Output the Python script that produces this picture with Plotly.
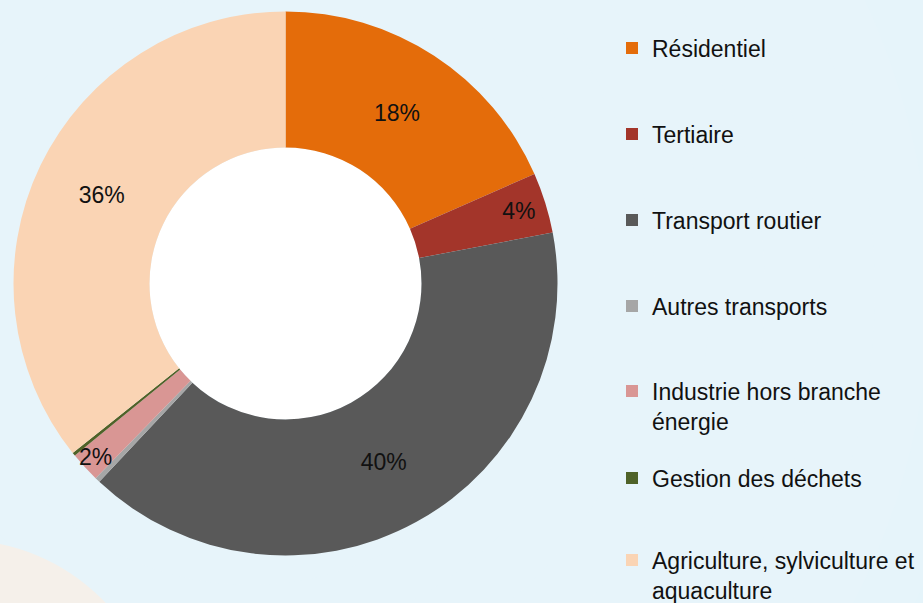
import plotly.graph_objects as go

# ---- data ----
categories = ["Résidentiel", "Tertiaire", "Transport routier", "Autres transports",
              "Industrie hors branche énergie", "Gestion des déchets",
              "Agriculture, sylviculture et aquaculture"]
legend_labels = ["Résidentiel", "Tertiaire", "Transport routier", "Autres transports",
                 "Industrie hors branche<br>énergie", "Gestion des déchets",
                 "Agriculture, sylviculture et<br>aquaculture"]
shares = [18.4, 3.6, 40.0, 0.3, 1.8, 0.2, 35.7]
show_label = [True, True, True, False, True, False, True]
colors = ["#E46C0A", "#A3352A", "#595959", "#A6A6A6", "#D99694", "#4F6228", "#FAD4B4"]

W, H = 923, 603
FONT = "Liberation Sans, Arial, sans-serif"
FS = 23

fig = go.Figure()

fig.add_trace(go.Pie(
    labels=categories,
    values=shares,
    sort=False,
    direction="clockwise",
    rotation=0,
    hole=0.5,
    marker=dict(colors=colors, line=dict(width=0)),
    texttemplate=["%{percent:.0%}" if s else "" for s in show_label],
    textposition="inside",
    insidetextorientation="horizontal",
    textfont=dict(family=FONT, size=FS, color="#111111"),
    domain=dict(x=[13.5 / W, 557.5 / W], y=[(H - 555.5) / H, (H - 11.5) / H]),
    showlegend=False,
    hoverinfo="label+percent",
))

# legend entries (one legend per category so spacing matches the reference)
legend_y_px = [48, 134, 220, 306, 406, 478, 575]
for i, (lab, col) in enumerate(zip(legend_labels, colors)):
    lname = "legend" if i == 0 else f"legend{i + 1}"
    fig.add_trace(go.Scatter(
        x=[None], y=[None], mode="markers", name=lab,
        marker=dict(symbol="square", size=12, color=col),
        legend=lname, showlegend=True, hoverinfo="skip",
    ))
    fig.layout[lname] = dict(
        x=612 / W, y=1 - legend_y_px[i] / H, xanchor="left", yanchor="middle",
        font=dict(family=FONT, size=FS, color="#111111"),
        bgcolor="rgba(0,0,0,0)", borderwidth=0, valign="top", itemsizing="trace",
    )

# soft background glow: many faint concentric discs (lighter toward the chart)
glow = []
for k in range(12):
    r = 900 - k * 55
    glow.append(dict(type="circle", xref="paper", yref="paper", layer="below",
                     x0=(250 - r) / W, x1=(250 + r) / W,
                     y0=(H - 290 - r) / H, y1=(H - 290 + r) / H,
                     fillcolor="rgba(245,252,255,0.08)", line=dict(width=0)))

fig.update_layout(
    width=W, height=H,
    margin=dict(l=0, r=0, t=0, b=0, autoexpand=False),
    paper_bgcolor="#e2f3fa",
    plot_bgcolor="rgba(0,0,0,0)",
    xaxis=dict(visible=False),
    yaxis=dict(visible=False),
    uniformtext=dict(minsize=FS, mode="show"),
    shapes=glow + [
        # beige disc bottom-left
        dict(type="circle", xref="paper", yref="paper", layer="below",
             x0=-240 / W, x1=160 / W, y0=(H - 940) / H, y1=(H - 540) / H,
             fillcolor="#f5f0ea", line=dict(width=0)),
        # white hole
        dict(type="circle", xref="paper", yref="paper", layer="below",
             x0=149.5 / W, x1=421.5 / W, y0=(H - 419.5) / H, y1=(H - 147.5) / H,
             fillcolor="#ffffff", line=dict(width=0)),
    ],
)

fig.write_html("out.html", config={"displayModeBar": False},
               post_script="document.body.style.margin='0';")
